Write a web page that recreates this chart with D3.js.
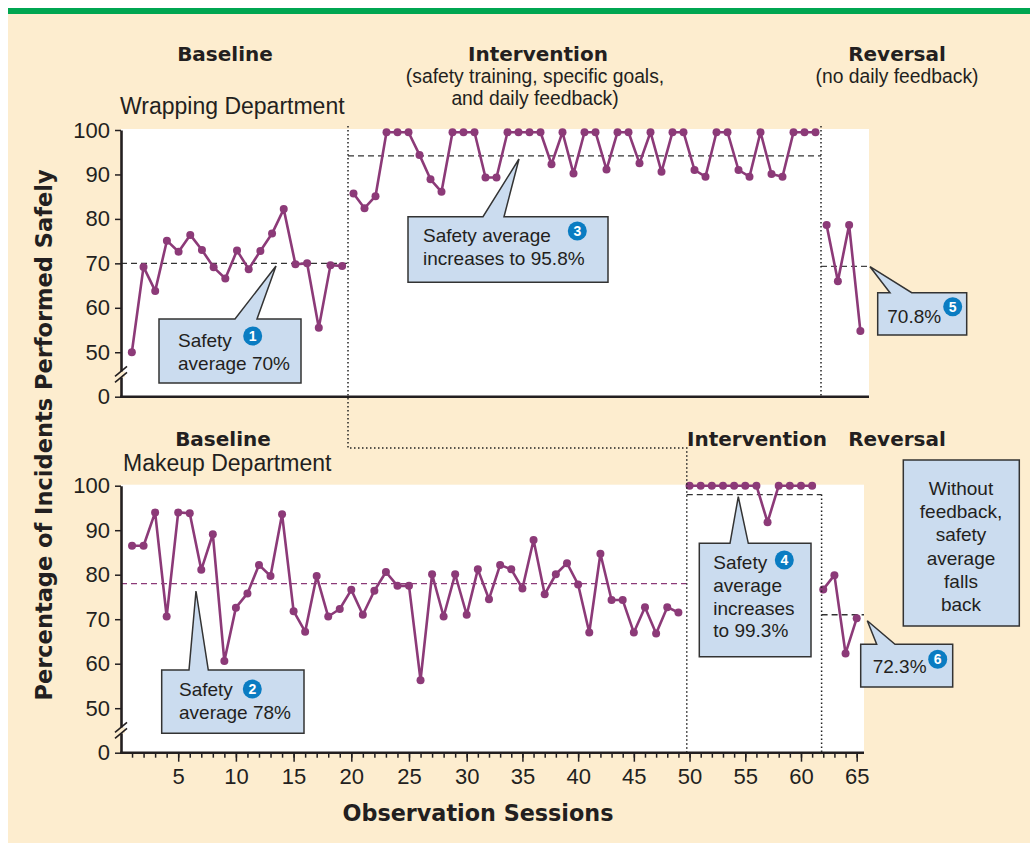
<!DOCTYPE html>
<html>
<head>
<meta charset="utf-8">
<script src="https://cdnjs.cloudflare.com/ajax/libs/d3/7.8.5/d3.min.js"></script>
<style>
  body { margin: 0; background: #fff; }
  svg text { font-family: "Liberation Sans", Arial, sans-serif; fill: #231f20; }
  svg text.heavy { font-family: "DejaVu Sans", sans-serif; font-weight: bold; }
</style>
</head>
<body>
<div id="chart"></div>
<script>
'use strict';

// Wrapping department, % of incidents performed safely per session
var wrapBaseline = [50.0, 69.2, 63.8, 75.1, 72.6, 76.4, 73.0, 69.1, 66.6, 72.9, 68.7, 72.8, 76.7, 82.2, 69.8, 70.0, 55.5, 69.6, 69.4];
var wrapIntervention = [85.7, 82.4, 85.1, 99.5, 99.5, 99.5, 94.4, 88.9, 86.1, 99.5, 99.5, 99.5, 89.3, 89.3, 99.5, 99.5, 99.5, 99.5, 92.3, 99.5, 90.2, 99.5, 99.5, 91.1, 99.5, 99.5, 92.5, 99.5, 90.6, 99.5, 99.5, 91.0, 89.5, 99.5, 99.5, 91.0, 89.5, 99.5, 90.1, 89.5, 99.5, 99.5, 99.5];
var wrapReversal = [78.6, 66.0, 78.6, 54.8];
var wrapPhaseStart = [1, 20, 63];
var wrapPhaseBreaks = [19.5, 62.5];
var wrapAverages = [70, 94.2, 69.3];

// Makeup department
var makeupBaseline = [86.5, 86.5, 94.0, 70.6, 94.0, 93.8, 81.1, 89.1, 60.6, 72.6, 75.8, 82.2, 79.7, 93.6, 71.8, 67.2, 79.7, 70.6, 72.3, 76.6, 71.0, 76.4, 80.6, 77.5, 77.5, 56.3, 80.1, 70.6, 80.1, 71.0, 81.2, 74.5, 82.2, 81.2, 76.9, 87.8, 75.6, 80.1, 82.6, 77.8, 67.0, 84.7, 74.3, 74.3, 67.0, 72.7, 66.8, 72.7, 71.5];
var makeupIntervention = [100, 100, 100, 100, 100, 100, 100, 91.8, 100, 100, 100, 100];
var makeupReversal = [76.7, 79.9, 62.3, 70.2];
var makeupPhaseStart = [1, 50, 62];
var makeupPhaseBreaks = [49.75, 61.85];
var makeupAverages = [78, 98, 71];

// Axis labels
var yTickValues = [100, 90, 80, 70, 60, 50];
var sessionTicks = [5, 10, 15, 20, 25, 30, 35, 40, 45, 50, 55, 60, 65];
var sessionMinorTicks = d3.range(1, 66);

var cream = '#fdedcf';
var purple = '#8c3a78';
var ink = '#231f20';
var calloutFill = '#cbdcef';
var badgeBlue = '#0a7cc2';

var svg = d3.select('#chart')
  .append('svg')
  .attr('width', 1030)
  .attr('height', 843);

// Background & green rule
svg.append('rect').attr('width', 1030).attr('height', 843).attr('fill', '#fff');
svg.append('rect').attr('x', 8).attr('y', 13).attr('width', 1022).attr('height', 830).attr('fill', cream);
svg.append('rect').attr('x', 8).attr('y', 8).attr('width', 1022).attr('height', 6).attr('fill', '#00a651');

// Scales
var xTop = d3.scaleLinear().domain([0.5, 19.5, 62.5, 66.5]).range([126, 348, 821, 866]);
var xBottom = d3.scaleLinear().domain([0, 30, 65]).range([120.5, 466.7, 856.7]);
var yTop = d3.scaleLinear().domain([40, 100]).range([396.7, 130]);
var yBottom = d3.scaleLinear().domain([40, 100]).range([752.7, 485.7]);

var panels = [
  {x: xTop, y: yTop, left: 121, right: 869, phases: [wrapBaseline, wrapIntervention, wrapReversal],
   starts: wrapPhaseStart, breaks: wrapPhaseBreaks, averages: wrapAverages, avgColors: ['#333', '#333', '#444']},
  {x: xBottom, y: yBottom, left: 121, right: 864, phases: [makeupBaseline, makeupIntervention, makeupReversal],
   starts: makeupPhaseStart, breaks: makeupPhaseBreaks, averages: makeupAverages, avgColors: [purple, '#333', '#333']}
];

var line = function(p) {
  return d3.line()
    .x(function(d) { return p.x(d.s); })
    .y(function(d) { return p.y(d.v); });
};

panels.forEach(function(p) {
  var g = svg.append('g');
  var top = p.y(100) - 1;
  var bottom = p.y(40);

  // plot area
  g.append('rect')
    .attr('x', p.left).attr('y', top)
    .attr('width', p.right - p.left).attr('height', bottom - top)
    .attr('fill', '#fff');

  // phase averages (dashed)
  var edges = [p.left, p.x(p.breaks[0]), p.x(p.breaks[1]), p.right];
  p.averages.forEach(function(a, i) {
    g.append('line')
      .attr('x1', edges[i]).attr('x2', edges[i + 1])
      .attr('y1', p.y(a)).attr('y2', p.y(a))
      .attr('stroke', p.avgColors[i])
      .attr('stroke-width', 1.3)
      .attr('stroke-dasharray', '6,4');
  });

  // data, one path per phase
  p.phases.forEach(function(values, i) {
    var pts = values.map(function(v, j) { return {s: p.starts[i] + j, v: v}; });
    g.append('path')
      .datum(pts)
      .attr('d', line(p))
      .attr('fill', 'none')
      .attr('stroke', purple)
      .attr('stroke-width', 2.6)
      .attr('stroke-linejoin', 'round');
    g.selectAll(null)
      .data(pts)
      .enter()
      .append('circle')
      .attr('cx', function(d) { return p.x(d.s); })
      .attr('cy', function(d) { return p.y(d.v); })
      .attr('r', 4)
      .attr('fill', purple);
  });

  // y axis
  var yAxis = d3.axisLeft(p.y)
    .tickValues(yTickValues.concat([40]))
    .tickFormat(function(d) { return d === 40 ? '0' : d; })
    .tickSize(6)
    .tickSizeOuter(0)
    .tickPadding(5);
  var ya = g.append('g')
    .attr('class', 'y axis')
    .attr('transform', 'translate(' + p.left + ',0)')
    .call(yAxis);
  ya.select('.domain').attr('stroke', ink).attr('stroke-width', 2.6);
  ya.selectAll('.tick line').attr('stroke', ink).attr('stroke-width', 1.5);
  ya.selectAll('text').attr('font-size', 22).attr('font-family', null).attr('fill', ink);

  // x axis baseline
  g.append('line')
    .attr('x1', p.left - 1).attr('x2', p.right)
    .attr('y1', bottom).attr('y2', bottom)
    .attr('stroke', ink).attr('stroke-width', 2.6);

  // axis break between 50 and 0
  var yb = p.y(45);
  g.append('rect')
    .attr('x', p.left - 4).attr('y', yb - 3)
    .attr('width', 8).attr('height', 6)
    .attr('fill', cream);
  [-3, 3].forEach(function(off) {
    g.append('line')
      .attr('x1', p.left - 6).attr('y1', yb + off + 5)
      .attr('x2', p.left + 6).attr('y2', yb + off - 5)
      .attr('stroke', ink).attr('stroke-width', 1.6);
  });
});

// session axis under the makeup panel
var minorAxis = d3.axisBottom(xBottom).tickValues(sessionMinorTicks).tickSize(5).tickFormat('');
var majorAxis = d3.axisBottom(xBottom).tickValues(sessionTicks).tickSize(9).tickPadding(7);
[minorAxis, majorAxis].forEach(function(ax) {
  var xa = svg.append('g')
    .attr('class', 'x axis')
    .attr('transform', 'translate(0,' + yBottom(40) + ')')
    .call(ax);
  xa.select('.domain').remove();
  xa.selectAll('.tick line').attr('stroke', ink).attr('stroke-width', 1.5);
  xa.selectAll('text').attr('font-size', 22).attr('font-family', null).attr('fill', ink);
});

// phase change lines (dotted)
var dotted = function(d) {
  svg.append('path')
    .attr('d', d)
    .attr('fill', 'none')
    .attr('stroke', '#222')
    .attr('stroke-width', 1.5)
    .attr('stroke-dasharray', '1.5,2.5');
};
dotted('M' + xTop(wrapPhaseBreaks[0]) + ',126V448H' + xBottom(makeupPhaseBreaks[0]) + 'V' + yBottom(40));
dotted('M' + xTop(wrapPhaseBreaks[1]) + ',126V' + yTop(40));
dotted('M' + xBottom(makeupPhaseBreaks[1]) + ',' + yBottom(98) + 'V' + yBottom(40));

// headers
var text = function(x, y, str, size, anchor, cls) {
  return svg.append('text')
    .attr('x', x).attr('y', y)
    .attr('font-size', size)
    .attr('text-anchor', anchor || 'start')
    .attr('class', cls || null)
    .text(str);
};
text(225, 61, 'Baseline', 20, 'middle', 'heavy');
text(538, 61, 'Intervention', 20, 'middle', 'heavy');
text(535, 83, '(safety training, specific goals,', 19.3, 'middle');
text(535, 105, 'and daily feedback)', 19.3, 'middle');
text(897, 61, 'Reversal', 20, 'middle', 'heavy');
text(897, 83, '(no daily feedback)', 19.3, 'middle');
text(120, 114, 'Wrapping Department', 23);

text(223, 446, 'Baseline', 20, 'middle', 'heavy');
text(123, 471, 'Makeup Department', 23);
text(757, 446, 'Intervention', 20, 'middle', 'heavy');
text(897, 446, 'Reversal', 20, 'middle', 'heavy');

text(478, 821, 'Observation Sessions', 22.3, 'middle', 'heavy');
svg.append('text')
  .attr('class', 'heavy')
  .attr('transform', 'translate(52,435) rotate(-90)')
  .attr('text-anchor', 'middle')
  .attr('font-size', 22.5)
  .text('Percentage of Incidents Performed Safely');

// callouts: box [x0,y0,x1,y1], pointer base on top edge, apex
var callouts = [
  {box: [159, 319, 301, 383], base: [235, 257], apex: [276, 266], tx: 178, ty: 346.7, lines: ['Safety', 'average 70%'], badge: '1', bx: 252.7, by: 336},
  {box: [408, 216.7, 608, 282.3], base: [483, 504], apex: [519, 159], tx: 423, ty: 241.7, lines: ['Safety average', 'increases to 95.8%'], badge: '3', bx: 577.3, by: 231},
  {box: [877.7, 292.7, 966.7, 335], base: [890, 911.7], apex: [870, 266.7], tx: 887.3, ty: 322.7, lines: ['70.8%'], badge: '5', bx: 952.7, by: 306.7},
  {box: [161.7, 670, 304, 733.3], base: [189, 208.3], apex: [196, 591], tx: 179, ty: 696, lines: ['Safety', 'average 78%'], badge: '2', bx: 252.3, by: 689},
  {box: [699.3, 543.3, 811, 656.7], base: [730, 748.3], apex: [738.3, 496.7], tx: 713.3, ty: 569, lines: ['Safety', 'average', 'increases', 'to 99.3%'], badge: '4', bx: 784.3, by: 560},
  {box: [860.7, 644.3, 952.7, 687], base: [876.7, 895], apex: [867.3, 620.7], tx: 872.7, ty: 673.3, lines: ['72.3%'], badge: '6', bx: 937.7, by: 659.3}
];

callouts.forEach(function(c) {
  var b = c.box;
  var d = 'M' + b[0] + ',' + b[1] +
    'L' + c.base[0] + ',' + b[1] +
    'L' + c.apex[0] + ',' + c.apex[1] +
    'L' + c.base[1] + ',' + b[1] +
    'L' + b[2] + ',' + b[1] +
    'L' + b[2] + ',' + b[3] +
    'L' + b[0] + ',' + b[3] + 'Z';
  svg.append('path')
    .attr('d', d)
    .attr('fill', calloutFill)
    .attr('stroke', '#333')
    .attr('stroke-width', 1.5);
  c.lines.forEach(function(l, i) {
    text(c.tx, c.ty + i * 22.8, l, 19);
  });
  svg.append('circle')
    .attr('cx', c.bx).attr('cy', c.by).attr('r', 9.5)
    .attr('fill', badgeBlue);
  svg.append('text')
    .attr('x', c.bx).attr('y', c.by + 5)
    .attr('text-anchor', 'middle')
    .attr('font-size', 14)
    .attr('font-weight', 'bold')
    .style('fill', '#fff')
    .text(c.badge);
});

// side note
svg.append('rect')
  .attr('x', 903.3).attr('y', 460)
  .attr('width', 116).attr('height', 166)
  .attr('fill', calloutFill)
  .attr('stroke', '#333')
  .attr('stroke-width', 1.5);
['Without', 'feedback,', 'safety', 'average', 'falls', 'back'].forEach(function(l, i) {
  text(961, 495 + i * 23.2, l, 19, 'middle');
});
</script>
</body>
</html>
